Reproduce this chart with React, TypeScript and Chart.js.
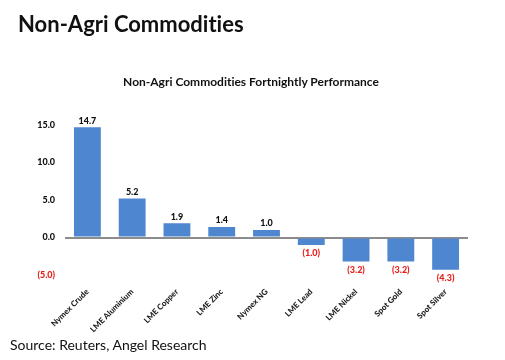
import React, { useEffect, useRef } from "react";
import { Chart, registerables } from "chart.js";

Chart.register(...registerables);

const categories = [
  "Nymex Crude",
  "LME Aluminium",
  "LME Copper",
  "LME Zinc",
  "Nymex NG",
  "LME Lead",
  "LME Nickel",
  "Spot Gold",
  "Spot Silver",
];
const performance = [14.7, 5.2, 1.9, 1.4, 1.0, -1.0, -3.2, -3.2, -4.3];
const yMin = -5;
const yMax = 15;
const yStep = 5;

const fmt = (v: number) =>
  v < 0 ? `(${Math.abs(v).toFixed(1)})` : v.toFixed(1);

const FONT = "Lato, 'Open Sans', sans-serif";

const valueLabels = {
  id: "valueLabels",
  afterDatasetsDraw(chart: any) {
    const ctx = chart.ctx;
    const meta = chart.getDatasetMeta(0);
    ctx.save();
    ctx.font = `900 9px ${FONT}`;
    ctx.textAlign = "center";
    meta.data.forEach((bar: any, i: number) => {
      const v = performance[i];
      if (v >= 0) {
        ctx.fillStyle = "#111111";
        ctx.textBaseline = "bottom";
        ctx.fillText(fmt(v), bar.x, bar.y - 2);
      } else {
        ctx.fillStyle = "#e8201c";
        ctx.textBaseline = "top";
        ctx.fillText(fmt(v), bar.x, bar.y + 4);
      }
    });
    ctx.restore();
  },
};

export default function App() {
  const ref = useRef<HTMLCanvasElement | null>(null);

  useEffect(() => {
    if (!ref.current) return;
    const chart = new Chart(ref.current, {
      type: "bar",
      data: {
        labels: categories,
        datasets: [
          {
            data: performance,
            backgroundColor: "#4f86d0",
            categoryPercentage: 1,
            barPercentage: 0.6,
          },
        ],
      },
      options: {
        animation: false,
        responsive: false,
        maintainAspectRatio: false,
        layout: { padding: { left: 0, right: 37, top: 125, bottom: 0 } },
        plugins: {
          legend: { display: false },
          tooltip: { enabled: false },
          title: { display: false },
        },
        scales: {
          x: {
            afterFit: (s: any) => {
              s.height = 85;
            },
            grid: { display: false },
            border: { display: false },
            ticks: {
              maxRotation: 45,
              minRotation: 45,
              autoSkip: false,
              padding: 4,
              color: "#222222",
              font: { family: FONT, size: 8, weight: "900" },
            },
          },
          y: {
            min: yMin,
            max: yMax,
            afterFit: (s: any) => {
              s.width = 65;
            },
            border: { display: false },
            grid: {
              drawTicks: false,
              color: (c: any) => (c.tick && c.tick.value === 0 ? "#8c8c8c" : "rgba(0,0,0,0)"),
              lineWidth: (c: any) => (c.tick && c.tick.value === 0 ? 2 : 0),
            },
            ticks: {
              stepSize: yStep,
              padding: 10,
              color: (c: any) => (c.tick && c.tick.value < 0 ? "#e8201c" : "#111111"),
              font: { family: FONT, size: 9, weight: "900" },
              callback: (v: any) => fmt(Number(v)),
            },
          },
        },
      },
      plugins: [valueLabels],
    });
    return () => chart.destroy();
  }, []);

  return (
    <div
      style={{
        position: "absolute",
        left: 0,
        top: 0,
        width: 505,
        height: 360,
        background: "#ffffff",
        overflow: "hidden",
        fontVariantLigatures: "none",
      }}
    >
      <canvas ref={ref} width={505} height={360} style={{ position: "absolute", left: 0, top: 0 }} />
      <div
        style={{
          position: "absolute",
          left: 18,
          top: 10,
          fontFamily: FONT,
          fontWeight: "bold",
          fontSize: 22,
          color: "#111111",
          whiteSpace: "nowrap",
        }}
      >
        Non-Agri Commodities
      </div>
      <div
        style={{
          position: "absolute",
          left: 0,
          width: 502,
          top: 74,
          textAlign: "center",
          fontFamily: FONT,
          fontWeight: "bold",
          fontSize: 12,
          color: "#111111",
          whiteSpace: "nowrap",
        }}
      >
        Non-Agri Commodities Fortnightly Performance
      </div>
      <div
        style={{
          position: "absolute",
          left: 10,
          top: 336,
          fontFamily: FONT,
          fontSize: 14,
          color: "#111111",
          whiteSpace: "nowrap",
        }}
      >
        Source: Reuters, Angel Research
      </div>
    </div>
  );
}
